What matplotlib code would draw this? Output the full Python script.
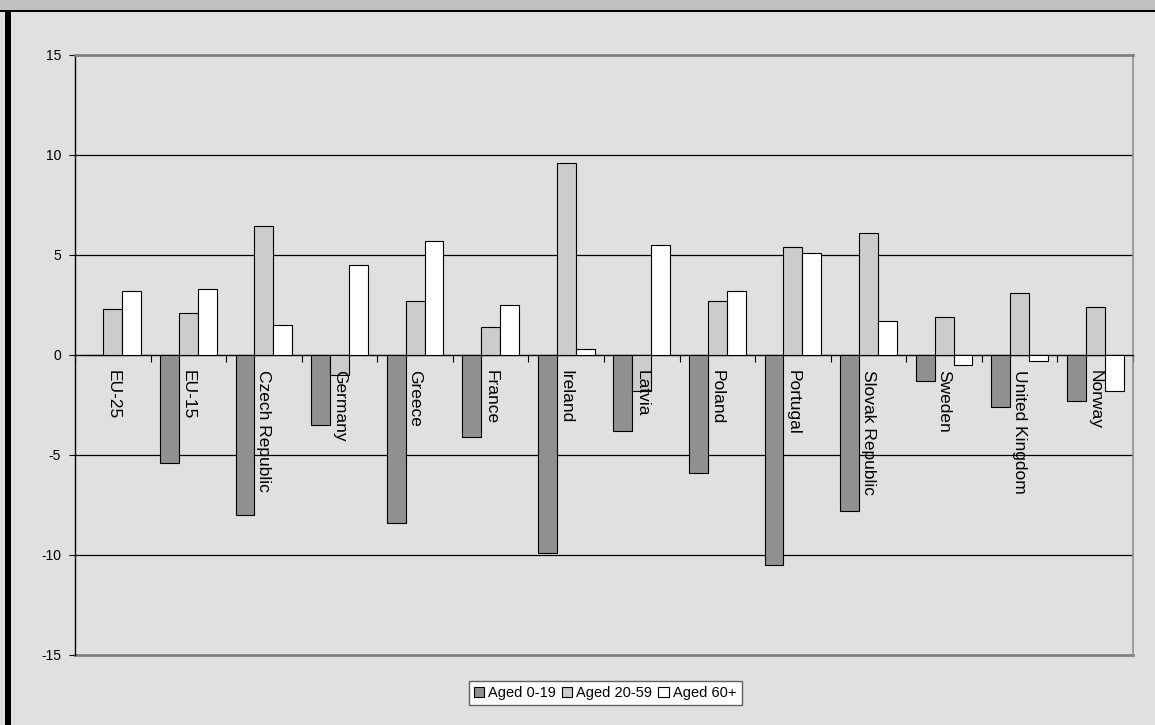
import numpy as np
import matplotlib.pyplot as plt
from matplotlib.patches import Rectangle

countries = ['EU-25', 'EU-15', 'Czech Republic', 'Germany', 'Greece', 'France',
             'Ireland', 'Latvia', 'Poland', 'Portugal', 'Slovak Republic',
             'Sweden', 'United Kingdom', 'Norway']
aged_0_19 = [0.0, -5.4, -8.0, -3.5, -8.4, -4.1, -9.9, -3.8, -5.9, -10.5, -7.8, -1.3, -2.6, -2.3]
aged_20_59 = [2.3, 2.1, 6.45, -1.0, 2.7, 1.4, 9.6, -1.8, 2.7, 5.4, 6.1, 1.9, 3.1, 2.4]
aged_60_plus = [3.2, 3.3, 1.5, 4.5, 5.7, 2.5, 0.3, 5.5, 3.2, 5.1, 1.7, -0.5, -0.3, -1.8]

series = [('Aged 0-19', aged_0_19, '#909090'),
          ('Aged 20-59', aged_20_59, '#cccccc'),
          ('Aged 60+', aged_60_plus, '#ffffff')]

plt.rcParams['font.family'] = ['Liberation Sans', 'DejaVu Sans']
plt.rcParams['axes.unicode_minus'] = False

W, H = 1155, 725
fig = plt.figure(figsize=(W / 100, H / 100), dpi=100, facecolor='#e0e0e0')

# frame: grey strip + black rule on top, black bar down the left side
fig.patches.append(Rectangle((0, 1 - 10 / H), 1, 10 / H, transform=fig.transFigure,
                             facecolor='#c0c0c0', edgecolor='none', zorder=0))
fig.patches.append(Rectangle((0, 1 - 12 / H), 1, 2 / H, transform=fig.transFigure,
                             facecolor='black', edgecolor='none', zorder=1))
fig.patches.append(Rectangle((5 / W, 0), 6 / W, 1 - 10 / H, transform=fig.transFigure,
                             facecolor='black', edgecolor='none', zorder=1))

ax = fig.add_axes([75 / W, 1 - 655 / H, (1133 - 75) / W, 600 / H])
ax.set_facecolor('#e0e0e0')

x = np.arange(len(countries))
bw = 0.25
for j, (name, vals, col) in enumerate(series):
    ax.bar(x + (j - 1) * bw, vals, width=bw, color=col, edgecolor='black',
           linewidth=0.8, label=name, zorder=3)

ax.set_xlim(-0.5, len(countries) - 0.5)
ax.set_ylim(-15, 15)
ax.set_yticks([-15, -10, -5, 0, 5, 10, 15])
ax.tick_params(axis='y', labelsize=10, length=4, width=0.8, color='black', pad=6)

for yv in [-10, -5, 5, 10]:
    ax.axhline(yv, color='black', linewidth=0.9, zorder=1)
ax.axhline(-15, color='#808080', linewidth=2, zorder=2, clip_on=False)

ax.spines['left'].set_color('black')
ax.spines['left'].set_linewidth(1)
ax.spines['top'].set_color('#808080')
ax.spines['top'].set_linewidth(2)
ax.spines['right'].set_color('#909090')
ax.spines['right'].set_linewidth(1.2)
ax.spines['bottom'].set_position(('data', 0))
ax.spines['bottom'].set_color('black')
ax.spines['bottom'].set_linewidth(1)

# tick marks between categories on the zero line
ax.set_xticks([])
ax.set_xticks(np.arange(len(countries) + 1) - 0.5, minor=True)
ax.tick_params(axis='x', which='minor', length=5, width=0.8, color='black',
               labelbottom=False)

# category names hang below the zero line, drawn over the bars
for xi, name in zip(x, countries):
    ax.text(xi, -0.75, name, rotation=270, fontsize=12.5, ha='center', va='top',
            zorder=6)

leg = fig.legend(loc='center', bbox_to_anchor=(605 / W, 1 - 693 / H), ncol=3,
                 fontsize=10.5, frameon=True, fancybox=False, shadow=False,
                 handlelength=0.7, handleheight=0.7, handletextpad=0.3,
                 columnspacing=0.4, borderpad=0.35, borderaxespad=0)
leg.get_frame().set_edgecolor('#606060')
leg.get_frame().set_linewidth(1)
leg.get_frame().set_facecolor('white')
leg.get_frame().set_alpha(1)

fig.savefig('out.png', dpi=100, facecolor=fig.get_facecolor())
